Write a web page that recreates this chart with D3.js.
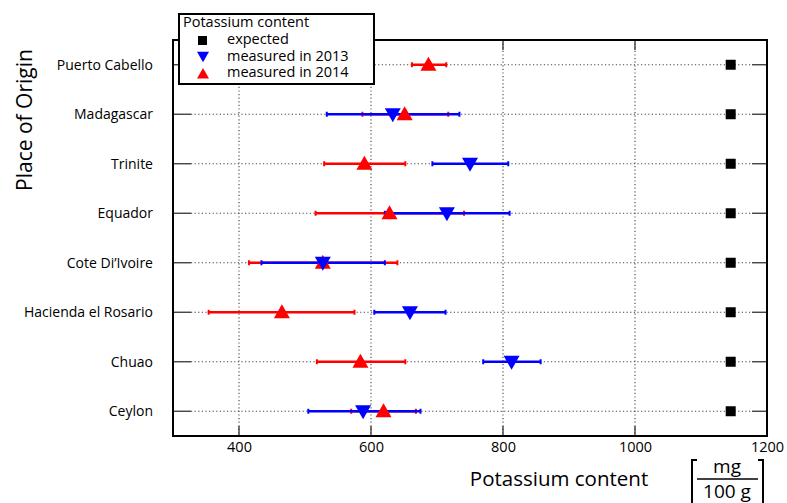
<!DOCTYPE html>
<html>
<head>
<meta charset="utf-8">
<script src="https://cdn.jsdelivr.net/npm/d3@7"></script>
<style>
  body { margin: 0; background: #fff; }
  text { font-family: "Open Sans", "Noto Sans", sans-serif; fill: #000; }
</style>
</head>
<body>
<svg id="chart" width="787" height="503"></svg>
<script>
// data
const places = ["Puerto Cabello", "Madagascar", "Trinite", "Equador", "Cote Di\u2019Ivoire", "Hacienda el Rosario", "Chuao", "Ceylon"];
const expected = [1145, 1145, 1145, 1145, 1145, 1145, 1145, 1145];
const mean2013 = [null, 633, 750, 715, 527, 659, 813, 588];
const low2013 = [null, 533, 693, 621, 434, 605, 770, 505];
const high2013 = [null, 734, 808, 810, 621, 713, 857, 675];
const mean2014 = [687, 651, 590, 628, 527, 465, 584, 619];
const low2014 = [662, 587, 529, 516, 415, 354, 518, 570];
const high2014 = [714, 717, 652, 741, 640, 575, 652, 668];
const xTicks = [400, 600, 800, 1000, 1200];

const svg = d3.select("svg#chart");
const m = { left: 173, right: 767, top: 40, bottom: 436 };

let x = d3.scaleLinear().domain([300, 1200]).range([m.left, m.right]);
let y = d3.scalePoint().domain(places).range([m.top, m.bottom]).padding(0.5);

// grid, dotted
let g_grid = svg.append("g").attr("stroke", "#444").attr("stroke-dasharray", "1.2,2.4").attr("stroke-width", 1.1);
g_grid.selectAll("line.v").data(xTicks.filter(d => d < 1200)).enter().append("line")
  .attr("x1", d => x(d)).attr("x2", d => x(d))
  .attr("y1", m.top).attr("y2", m.bottom);
g_grid.selectAll("line.h").data(places).enter().append("line")
  .attr("x1", m.left + 18).attr("x2", m.right - 15)
  .attr("y1", d => y(d)).attr("y2", d => y(d));

// inner ticks
let g_ticks = svg.append("g").attr("stroke", "#333").attr("stroke-width", 1.3);
places.forEach(p => {
  g_ticks.append("line").attr("x1", m.left).attr("x2", m.left + 18).attr("y1", y(p)).attr("y2", y(p));
  g_ticks.append("line").attr("x1", m.right - 15).attr("x2", m.right).attr("y1", y(p)).attr("y2", y(p));
});
xTicks.filter(d => d < 1200).forEach(t => {
  g_ticks.append("line").attr("x1", x(t)).attr("x2", x(t)).attr("y1", m.bottom).attr("y2", m.bottom - 10);
  g_ticks.append("line").attr("x1", x(t)).attr("x2", x(t)).attr("y1", m.top).attr("y2", m.top + 10);
});

// frame
svg.append("rect").attr("x", m.left).attr("y", m.top)
  .attr("width", m.right - m.left).attr("height", m.bottom - m.top)
  .attr("fill", "none").attr("stroke", "#000").attr("stroke-width", 2);

// x axis labels
let xAxis = d3.axisBottom(x).tickValues(xTicks).tickFormat(d3.format("d")).tickSize(0).tickPadding(6);
let g_x = svg.append("g").attr("transform", `translate(0,${m.bottom})`).call(xAxis);
g_x.select(".domain").remove();
g_x.selectAll("text").style("font-size", "14.5px").attr("dy", "0.75em").attr("y", 5);

// category labels
svg.append("g").selectAll("text").data(places).enter().append("text")
  .attr("x", m.left - 20).attr("y", d => y(d)).attr("dy", "0.35em")
  .attr("text-anchor", "end").style("font-size", "14px").text(d => d);

// error bars
function drawBars(lo, hi, color) {
  let g = svg.append("g").attr("stroke", color);
  places.forEach((p, i) => {
    if (lo[i] == null) return;
    g.append("line").attr("x1", x(lo[i])).attr("x2", x(hi[i])).attr("y1", y(p)).attr("y2", y(p)).attr("stroke-width", 2.6);
    [lo[i], hi[i]].forEach(v => {
      g.append("line").attr("x1", x(v)).attr("x2", x(v)).attr("y1", y(p) - 2.5).attr("y2", y(p) + 2.5).attr("stroke-width", 2);
    });
  });
}
drawBars(low2014, high2014, "#f00");
drawBars(low2013, high2013, "#00f");

const triUp = "M0,-8L8,6L-8,6Z";
const triDown = "M0,7L8,-7L-8,-7Z";

svg.append("g").selectAll("path").data(places.map((p, i) => [p, mean2014[i]]).filter(d => d[1] != null))
  .enter().append("path").attr("d", triUp).attr("fill", "#f00")
  .attr("transform", d => `translate(${x(d[1])},${y(d[0])})`);
svg.append("g").selectAll("path").data(places.map((p, i) => [p, mean2013[i]]).filter(d => d[1] != null))
  .enter().append("path").attr("d", triDown).attr("fill", "#00f")
  .attr("transform", d => `translate(${x(d[1])},${y(d[0]) + 1})`);
svg.append("g").selectAll("rect").data(places.map((p, i) => [p, expected[i]]))
  .enter().append("rect").attr("width", 10).attr("height", 10).attr("fill", "#000")
  .attr("x", d => x(d[1]) - 5).attr("y", d => y(d[0]) - 5);

// legend
let g_leg = svg.append("g");
g_leg.append("rect").attr("x", 179).attr("y", 14).attr("width", 195).attr("height", 70)
  .attr("fill", "#fff").attr("stroke", "#000").attr("stroke-width", 2);
g_leg.append("text").attr("x", 183).attr("y", 27).style("font-size", "14.5px").text("Potassium content");
g_leg.append("rect").attr("x", 198).attr("y", 36).attr("width", 9).attr("height", 9).attr("fill", "#000");
g_leg.append("path").attr("d", triDown).attr("fill", "#00f").attr("transform", "translate(203,57) scale(0.75)");
g_leg.append("path").attr("d", triUp).attr("fill", "#f00").attr("transform", "translate(203,74) scale(0.75)");
[["expected", 44], ["measured in 2013", 61], ["measured in 2014", 77]].forEach(d => {
  g_leg.append("text").attr("x", 227).attr("y", d[1]).style("font-size", "14.5px").text(d[0]);
});

// axis titles
svg.append("text").attr("x", 559).attr("y", 486).attr("text-anchor", "middle")
  .style("font-size", "20.5px").text("Potassium content");
svg.append("text").attr("transform", "translate(32,120) rotate(-90)").attr("text-anchor", "middle")
  .style("font-size", "21px").text("Place of Origin");

// unit in brackets
let g_unit = svg.append("g");
g_unit.append("path").attr("d", "M697,460H692V503").attr("fill", "none").attr("stroke", "#000").attr("stroke-width", 2);
g_unit.append("path").attr("d", "M758,460H763V503").attr("fill", "none").attr("stroke", "#000").attr("stroke-width", 2);
g_unit.append("line").attr("x1", 697).attr("x2", 758).attr("y1", 479).attr("y2", 479).attr("stroke", "#000").attr("stroke-width", 1.5);
g_unit.append("text").attr("x", 727).attr("y", 473).attr("text-anchor", "middle").style("font-size", "19px").text("mg");
g_unit.append("text").attr("x", 727).attr("y", 498).attr("text-anchor", "middle").style("font-size", "19px").text("100 g");
</script>
</body>
</html>
